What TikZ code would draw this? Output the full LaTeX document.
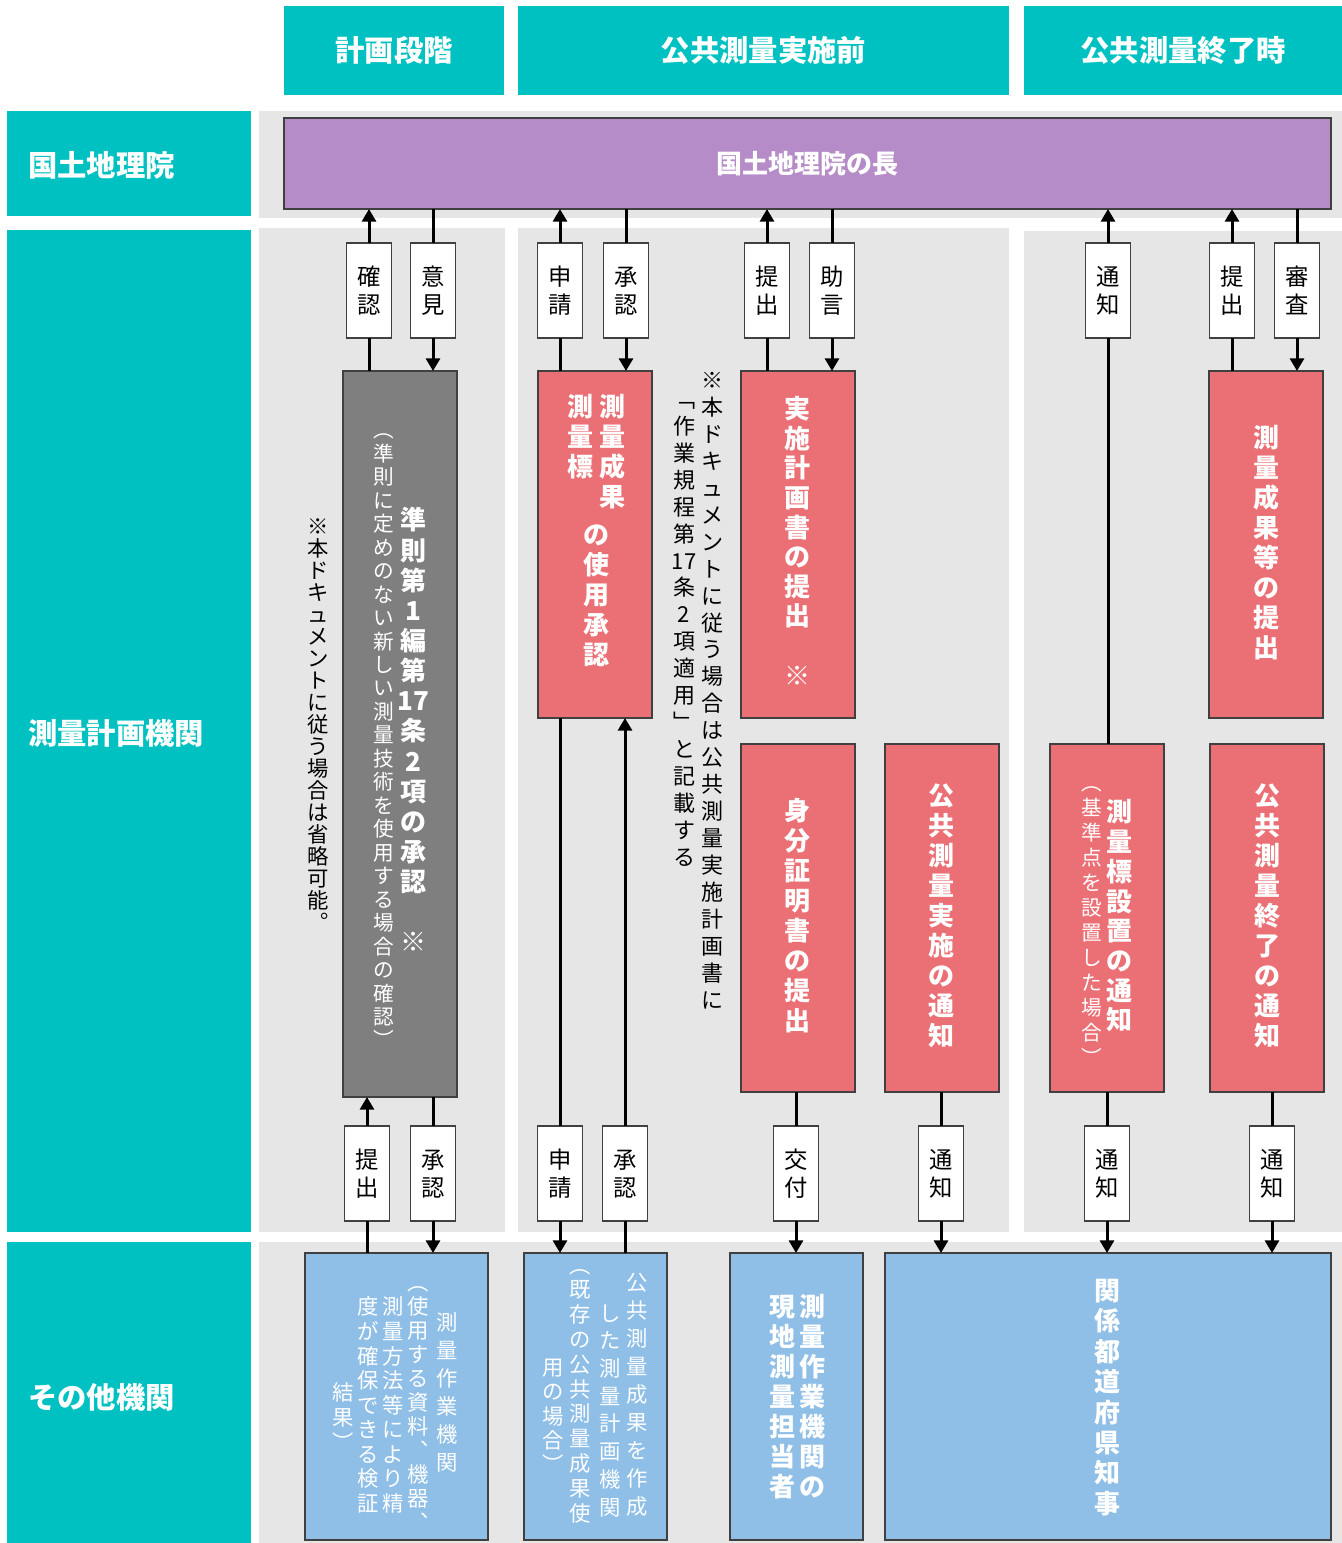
\documentclass[tikz,border=0pt]{standalone}
\usepackage{fontspec}
\setmainfont{Noto Sans CJK JP}
\usetikzlibrary{arrows.meta}

\definecolor{tealc}{RGB}{0,193,193}
\definecolor{bggray}{RGB}{230,230,230}
\definecolor{purpc}{RGB}{181,140,200}
\definecolor{redc}{RGB}{235,112,117}
\definecolor{grayc}{RGB}{127,127,127}
\definecolor{bluec}{RGB}{143,191,231}
\definecolor{edgec}{RGB}{64,64,64}

% vertical text: one character (or braced group) per cell
\def\vtxtendmark{\vtxtend}
\newcommand\vtxt[2]{\vbox{\baselineskip=#1\lineskip=0pt\lineskiplimit=-100pt\vtxtloop#2\vtxtend}}
\def\vtxtloop#1{\def\vtxttmp{#1}\ifx\vtxttmp\vtxtendmark\else\hbox to 1em{\hss\vrule height .88em depth .12em width 0pt\relax#1\hss}\expandafter\vtxtloop\fi}

% box from (x1,y1) to (x2,y2) in pixel units
\newcommand\bx[7]{\node[#2, minimum width={(#5-#3)*0.75pt}, minimum height={(#6-#4)*0.75pt}, inner sep=0pt, outer sep=0pt] (#1) at ({(#3+#5)/2},{(#4+#6)/2}) {#7};}
% small label box
\newcommand\lab[4]{\node[lbl] (#1) at (#2,#3) {\vtxt{21pt}{#4}};}

\tikzset{
  bgrect/.style={fill=bggray, draw=none},
  hdr/.style={fill=tealc, draw=none, text=white, font=\bfseries\fontsize{22}{26}\selectfont},
  side/.style={fill=tealc, draw=none},
  sidetext/.style={text=white, font=\bfseries\fontsize{22}{26}\selectfont, inner sep=0pt},
  purpbox/.style={fill=purpc, draw=edgec, line width=1pt, text=white, font=\bfseries\fontsize{19.5}{23}\selectfont},
  redbox/.style={fill=redc, draw=edgec, line width=1pt},
  graybox/.style={fill=grayc, draw=edgec, line width=1pt},
  bluebox/.style={fill=bluec, draw=edgec, line width=1pt},
  lbl/.style={fill=white, draw=edgec, line width=1pt, minimum width=33.75pt, minimum height=71.25pt, inner sep=0pt, outer sep=0pt, font=\fontsize{17.5}{21}\selectfont},
  vbold/.style={text=white, font=\bfseries\fontsize{19.5}{22}\selectfont, inner sep=0pt},
  vsmall/.style={text=white, font=\fontsize{15.5}{18}\selectfont, inner sep=0pt},
  vnote/.style={text=black, inner sep=0pt},
  vblue/.style={text=white, font=\fontsize{16}{19}\selectfont, inner sep=0pt},
  ln/.style={line width=2.25pt, black},
  arr/.style={ln, -{Triangle[width=10.5pt,length=9.5pt]}},
}

\begin{document}
\begin{tikzpicture}[x=0.75pt,y=-0.75pt]
\useasboundingbox (0,0) rectangle (1342,1543);

% backgrounds
\bx{bgA}{bgrect}{259}{111}{1342}{218}{}
\bx{bgB1}{bgrect}{259}{228}{505}{1232}{}
\bx{bgB2}{bgrect}{518}{228}{1009}{1232}{}
\bx{bgB3}{bgrect}{1024}{231}{1342}{1232}{}
\bx{bgC}{bgrect}{259}{1242}{1342}{1543}{}

% headers
\bx{h1}{hdr}{284}{6}{504}{95}{計画段階}
\bx{h2}{hdr}{518}{6}{1009}{95}{公共測量実施前}
\bx{h3}{hdr}{1024}{6}{1342}{95}{公共測量終了時}

% side labels
\bx{s1}{side}{7}{111}{251}{216}{}
\node[sidetext, anchor=west] (s1t) at (28,165) {国土地理院};
\bx{s2}{side}{7}{230}{251}{1232}{}
\node[sidetext, anchor=west] (s2t) at (28,733) {測量計画機関};
\bx{s3}{side}{7}{1242}{251}{1543}{}
\node[sidetext, anchor=west] (s3t) at (28,1397) {その他機関};

% top box
\bx{top}{purpbox}{284}{118}{1331}{209}{国土地理院の長}

% main boxes
\bx{gb}{graybox}{343}{371}{457}{1097}{}
\bx{r1}{redbox}{538}{371}{652}{718}{}
\bx{r2}{redbox}{741}{371}{855}{718}{}
\bx{r3}{redbox}{741}{744}{855}{1092}{}
\bx{r4}{redbox}{885}{744}{999}{1092}{}
\bx{r5}{redbox}{1050}{744}{1164}{1092}{}
\bx{r6}{redbox}{1209}{371}{1323}{718}{}
\bx{r7}{redbox}{1210}{744}{1324}{1092}{}
\bx{b1}{bluebox}{305}{1253}{488}{1540}{}
\bx{b2}{bluebox}{524}{1253}{667}{1540}{}
\bx{b3}{bluebox}{730}{1253}{863}{1540}{}
\bx{b4}{bluebox}{885}{1253}{1331}{1540}{}

% texts in main boxes
\node[vbold] (gbt1) at (413,731) {\vtxt{22.6pt}{準則第1編第{17}条2項の承認{}※}};
\node[vsmall] (gbt2) at (384,735) {\vtxt{17.6pt}{︵準則に定めのない新しい測量技術を使用する場合の確認︶}};
\node[vnote, font=\fontsize{16}{18}\selectfont] (n1) at (318,724) {\vtxt{16.5pt}{※本ドキュメントに従う場合は省略可能︒}};
\node[vnote, font=\fontsize{16.5}{20}\selectfont] (n2a) at (712,690) {\vtxt{20.2pt}{※本ドキュメントに従う場合は公共測量実施計画書に}};
\node[vnote, font=\fontsize{16.5}{20}\selectfont] (n2b) at (684,628) {\vtxt{20.2pt}{﹁作業規程第{17}条2項適用﹂と記載する}};

\node[vbold] (r1a) at (612,452) {\vtxt{22.5pt}{測量成果}};
\node[vbold] (r1b) at (580,437) {\vtxt{22.5pt}{測量標}};
\node[vbold] (r1c) at (596,595) {\vtxt{22.5pt}{の使用承認}};
\node[vbold] (r2t) at (797,542) {\vtxt{22.2pt}{実施計画書の提出{}※}};
\node[vbold] (r3t) at (797,916) {\vtxt{22.5pt}{身分証明書の提出}};
\node[vbold] (r4t) at (941,916) {\vtxt{22.5pt}{公共測量実施の通知}};
\node[vbold] (r5t) at (1119,916) {\vtxt{22.3pt}{測量標設置の通知}};
\node[vsmall] (r5s) at (1092,920) {\vtxt{18.7pt}{︵基準点を設置した場合︶}};
\node[vbold] (r6t) at (1266,543) {\vtxt{22.5pt}{測量成果等の提出}};
\node[vbold] (r7t) at (1267,916) {\vtxt{22.5pt}{公共測量終了の通知}};

\node[vblue] (b1a) at (447,1392) {\vtxt{21pt}{測量作業機関}};
\node[vblue] (b1b) at (418,1402) {\vtxt{18pt}{︵使用する資料︑機器︑}};
\node[vblue] (b1c) at (393,1405) {\vtxt{18.4pt}{測量方法等により精}};
\node[vblue] (b1d) at (368,1405) {\vtxt{18.4pt}{度が確保できる検証}};
\node[vblue] (b1e) at (343,1417) {\vtxt{18.7pt}{結果︶}};
\node[vblue] (b2a) at (637,1394) {\vtxt{21pt}{公共測量成果を作成}};
\node[vblue] (b2b) at (610,1410) {\vtxt{20.8pt}{した測量計画機関}};
\node[vblue] (b2c) at (580,1389) {\vtxt{18.6pt}{︵既存の公共測量成果使}};
\node[vblue] (b2d) at (553,1416) {\vtxt{18.3pt}{用の場合︶}};
\node[vbold] (b3a) at (812,1397) {\vtxt{22.5pt}{測量作業機関の}};
\node[vbold] (b3b) at (782,1397) {\vtxt{22.5pt}{現地測量担当者}};
\node[vbold] (b4t) at (1107,1397) {\vtxt{22.8pt}{関係都道府県知事}};

% upper labels
\lab{u1}{369}{290.5}{確認}
\lab{u2}{433}{290.5}{意見}
\lab{u3}{560}{290.5}{申請}
\lab{u4}{626}{290.5}{承認}
\lab{u5}{767}{290.5}{提出}
\lab{u6}{832}{290.5}{助言}
\lab{u7}{1108}{290.5}{通知}
\lab{u8}{1232}{290.5}{提出}
\lab{u9}{1297}{290.5}{審査}
% lower labels
\lab{d1}{367}{1173.5}{提出}
\lab{d2}{433}{1173.5}{承認}
\lab{d3}{560}{1173.5}{申請}
\lab{d4}{625}{1173.5}{承認}
\lab{d5}{796}{1173.5}{交付}
\lab{d6}{941}{1173.5}{通知}
\lab{d7}{1107}{1173.5}{通知}
\lab{d8}{1272}{1173.5}{通知}

% upper connectors
\draw[ln] (u1 |- gb.north) -- (u1.south); \draw[arr] (u1.north) -- (u1 |- top.south);
\draw[ln] (u2 |- top.south) -- (u2.north); \draw[arr] (u2.south) -- (u2 |- gb.north);
\draw[ln] (u3 |- r1.north) -- (u3.south); \draw[arr] (u3.north) -- (u3 |- top.south);
\draw[ln] (u4 |- top.south) -- (u4.north); \draw[arr] (u4.south) -- (u4 |- r1.north);
\draw[ln] (u5 |- r2.north) -- (u5.south); \draw[arr] (u5.north) -- (u5 |- top.south);
\draw[ln] (u6 |- top.south) -- (u6.north); \draw[arr] (u6.south) -- (u6 |- r2.north);
\draw[ln] (u7 |- r5.north) -- (u7.south); \draw[arr] (u7.north) -- (u7 |- top.south);
\draw[ln] (u8 |- r6.north) -- (u8.south); \draw[arr] (u8.north) -- (u8 |- top.south);
\draw[ln] (u9 |- top.south) -- (u9.north); \draw[arr] (u9.south) -- (u9 |- r6.north);

% lower connectors
\draw[ln] (d1 |- b1.north) -- (d1.south); \draw[arr] (d1.north) -- (d1 |- gb.south);
\draw[ln] (d2 |- gb.south) -- (d2.north); \draw[arr] (d2.south) -- (d2 |- b1.north);
\draw[ln] (d3 |- r1.south) -- (d3.north); \draw[arr] (d3.south) -- (d3 |- b2.north);
\draw[ln] (d4 |- b2.north) -- (d4.south); \draw[arr] (d4.north) -- (d4 |- r1.south);
\draw[ln] (d5 |- r3.south) -- (d5.north); \draw[arr] (d5.south) -- (d5 |- b3.north);
\draw[ln] (d6 |- r4.south) -- (d6.north); \draw[arr] (d6.south) -- (d6 |- b4.north);
\draw[ln] (d7 |- r5.south) -- (d7.north); \draw[arr] (d7.south) -- (d7 |- b4.north);
\draw[ln] (d8 |- r7.south) -- (d8.north); \draw[arr] (d8.south) -- (d8 |- b4.north);
\end{tikzpicture}
\end{document}
